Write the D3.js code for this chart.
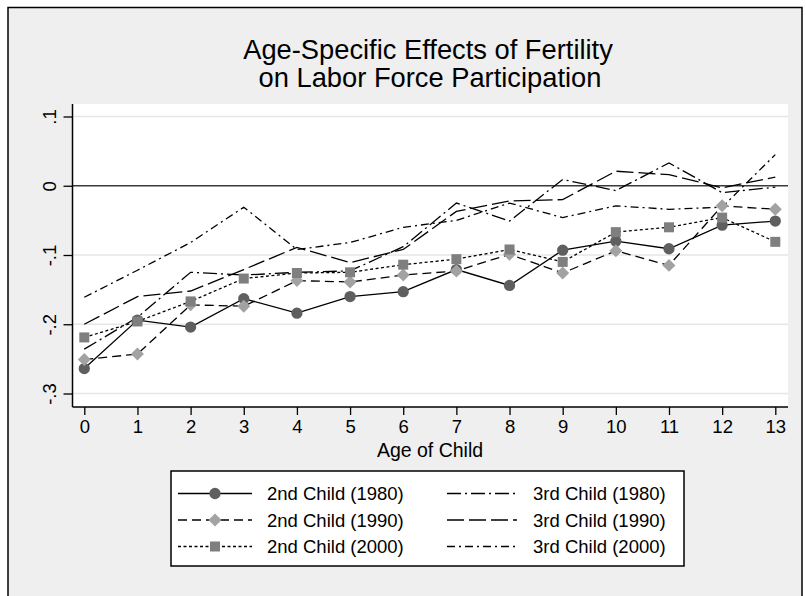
<!DOCTYPE html>
<html><head><meta charset="utf-8">
<script src="https://cdn.jsdelivr.net/npm/d3@7"></script>
<style>body{margin:0;background:#fff}svg{display:block}text{font-family:"Liberation Sans",Arial,sans-serif;fill:#000}</style>
</head><body>
<script>
const ages = [0,1,2,3,4,5,6,7,8,9,10,11,12,13];
const yTicks = [0.1, 0, -0.1, -0.2, -0.3];
const yTickLabels = [".1", "0", "-.1", "-.2", "-.3"];
const seriesNames = ["2nd Child (1980)","2nd Child (1990)","2nd Child (2000)","3rd Child (1980)","3rd Child (1990)","3rd Child (2000)"];
const child2_1980 = [-0.264,-0.194,-0.204,-0.163,-0.184,-0.160,-0.153,-0.121,-0.144,-0.093,-0.080,-0.091,-0.057,-0.051];
const child2_1990 = [-0.251,-0.243,-0.172,-0.174,-0.137,-0.139,-0.129,-0.123,-0.099,-0.126,-0.094,-0.115,-0.029,-0.034];
const child2_2000 = [-0.219,-0.196,-0.167,-0.134,-0.126,-0.125,-0.114,-0.106,-0.092,-0.110,-0.067,-0.060,-0.046,-0.081];
const child3_1980 = [-0.236,-0.190,-0.125,-0.129,-0.125,-0.123,-0.088,-0.025,-0.051,0.009,-0.007,0.033,-0.010,-0.002];
const child3_1990 = [-0.200,-0.160,-0.152,-0.121,-0.089,-0.111,-0.092,-0.037,-0.022,-0.020,0.021,0.016,-0.003,0.0125];
const child3_2000 = [-0.161,-0.122,-0.082,-0.031,-0.092,-0.082,-0.060,-0.050,-0.025,-0.046,-0.029,-0.034,-0.031,0.045];

const W = 806, H = 596;
const svg = d3.select("body").append("svg").attr("width", W).attr("height", H);
svg.append("rect").attr("x",0).attr("y",0).attr("width",W).attr("height",H).attr("fill","#fff");
svg.append("rect").attr("x",8).attr("y",7.5).attr("width",794).attr("height",600)
  .attr("fill","#efefef").attr("stroke","#000").attr("stroke-width",1.5);

const plot = {l:72.5, r:788, t:104, b:407};
svg.append("rect").attr("x",plot.l).attr("y",plot.t).attr("width",plot.r-plot.l).attr("height",plot.b-plot.t).attr("fill","#fff");

const x = d3.scaleLinear().domain([0,13]).range([84.3,775.3]);
const y = d3.scaleLinear().domain([0.1,-0.3]).range([116.5,393.5]);

svg.append("g").selectAll("line").data(yTicks.filter(v=>v!==0)).join("line")
  .attr("x1",plot.l).attr("x2",plot.r).attr("y1",d=>y(d)).attr("y2",d=>y(d))
  .attr("stroke","#e6e6e6").attr("stroke-width",1.5);
svg.append("line").attr("x1",plot.l).attr("x2",plot.r).attr("y1",y(0)).attr("y2",y(0))
  .attr("stroke","#3a3a3a").attr("stroke-width",1.5);

const yAxis = d3.axisLeft(y).tickValues(yTicks).tickSize(9).tickFormat((d,i)=>yTickLabels[i]);
const gy = svg.append("g").attr("transform",`translate(${plot.l},0)`).call(yAxis);
gy.select(".domain").attr("d",`M0,${plot.t}V${plot.b}`).attr("stroke","#000").attr("stroke-width",1.5);
gy.selectAll(".tick line").attr("stroke","#000").attr("stroke-width",1.3);
gy.selectAll(".tick text").attr("font-size",18.5).attr("font-family","Liberation Sans, Arial, sans-serif")
  .attr("text-anchor","middle").attr("transform","rotate(-90)").attr("x",0).attr("y",-17).attr("dy",null);

const xAxis = d3.axisBottom(x).tickValues(ages).tickSize(8).tickFormat(d3.format("d"));
const gx = svg.append("g").attr("transform",`translate(0,${plot.b})`).call(xAxis);
gx.select(".domain").attr("d",`M${plot.l},0H${plot.r}`).attr("stroke","#000").attr("stroke-width",1.5);
gx.selectAll(".tick line").attr("stroke","#000").attr("stroke-width",1.3);
gx.selectAll(".tick text").attr("font-size",18.5).attr("font-family","Liberation Sans, Arial, sans-serif").attr("y",13).attr("dy","0.71em");

svg.append("text").attr("x",430).attr("y",457).attr("text-anchor","middle").attr("font-size",19.5).text("Age of Child");
svg.append("text").attr("x",428).attr("y",59).attr("text-anchor","middle").attr("font-size",27.3).text("Age-Specific Effects of Fertility");
svg.append("text").attr("x",430).attr("y",87).attr("text-anchor","middle").attr("font-size",27.3).text("on Labor Force Participation");

const series = [
  {name:seriesNames[0], vals:child2_1980, dash:null, marker:"circle", color:"#5f5f5f"},
  {name:seriesNames[1], vals:child2_1990, dash:"9,5", marker:"diamond", color:"#a2a2a2"},
  {name:seriesNames[2], vals:child2_2000, dash:"3,2.5", marker:"square", color:"#7f7f7f"},
  {name:seriesNames[3], vals:child3_1980, dash:"14,4,2,4", marker:null},
  {name:seriesNames[4], vals:child3_1990, dash:"17,5", marker:null},
  {name:seriesNames[5], vals:child3_2000, dash:"8,4,2,4", marker:null}
];
const line = d3.line().x((d,i)=>x(ages[i])).y(d=>y(d));
const rhombus = { draw(ctx, size){ const r = Math.sqrt(size/2); ctx.moveTo(0,-r); ctx.lineTo(r,0); ctx.lineTo(0,r); ctx.lineTo(-r,0); ctx.closePath(); } };
const symGen = {
  circle: d3.symbol().type(d3.symbolCircle).size(100),
  diamond: d3.symbol().type(rhombus).size(84),
  square: d3.symbol().type(d3.symbolSquare).size(100)
};
const order = [3,4,5,0,1,2];
order.forEach(k=>{
  const s = series[k];
  svg.append("path").attr("d",line(s.vals)).attr("fill","none").attr("stroke","#000")
    .attr("stroke-width",1.3).attr("stroke-dasharray",s.dash);
});
[0,1,2].forEach(k=>{
  const s = series[k];
  svg.append("g").selectAll("path").data(s.vals).join("path")
    .attr("transform",(d,i)=>`translate(${x(ages[i])},${y(d)})`)
    .attr("d",symGen[s.marker]()).attr("fill",s.color);
});

const lg = svg.append("g");
lg.append("rect").attr("x",171).attr("y",471).attr("width",513).attr("height",95)
  .attr("fill","#fff").attr("stroke","#000").attr("stroke-width",1.5);
const rowY = [493.5, 520, 546.5];
series.forEach((s,k)=>{
  const col = k<3?0:1, row = k%3;
  const x0 = col===0?178:447, x1 = col===0?252:517, tx = col===0?267:533;
  const yy = rowY[row];
  lg.append("line").attr("x1",x0).attr("x2",x1).attr("y1",yy).attr("y2",yy)
    .attr("stroke","#000").attr("stroke-width",1.3).attr("stroke-dasharray",s.dash);
  if (s.marker) lg.append("path").attr("transform",`translate(${(x0+x1)/2},${yy})`).attr("d",symGen[s.marker]()).attr("fill",s.color);
  lg.append("text").attr("x",tx).attr("y",yy).attr("dy","0.36em").attr("font-size",18.5).text(s.name);
});
</script>
</body></html>
